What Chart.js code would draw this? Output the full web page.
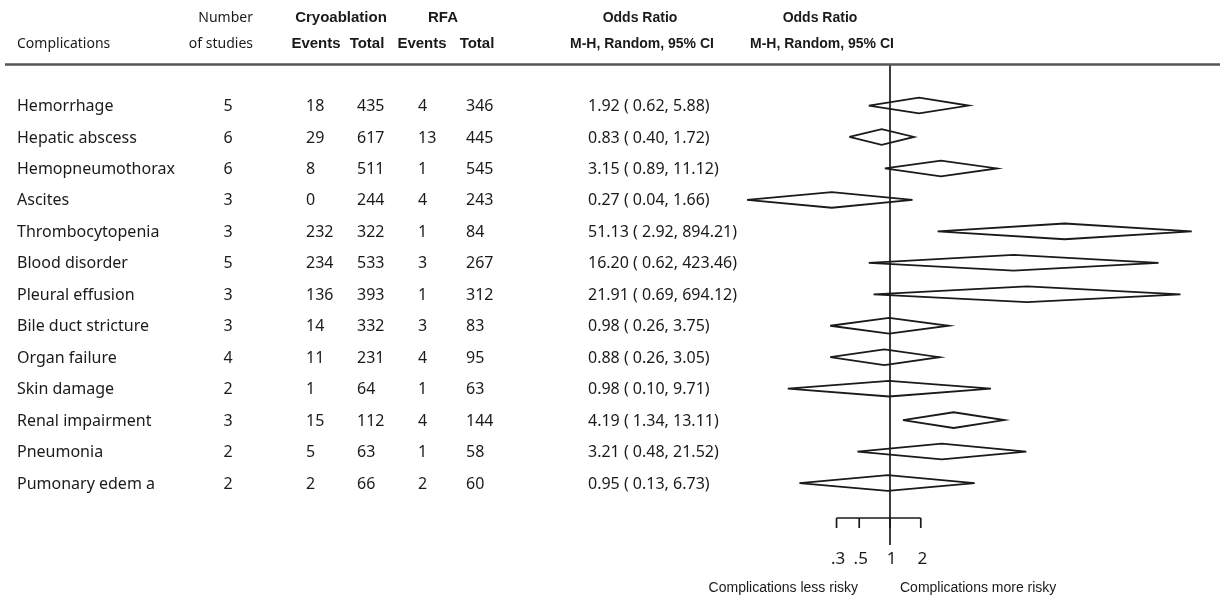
<!DOCTYPE html>
<html>
<head>
<meta charset="utf-8">
<title>Complications: cryoablation vs RFA</title>
<script src="https://cdn.jsdelivr.net/npm/chart.js@4/dist/chart.umd.min.js"></script>
<style>
  html, body { margin: 0; padding: 0; background: #ffffff; }
  canvas { display: block; }
</style>
</head>
<body>
<canvas id="forest" width="1220" height="601"></canvas>
<script>
// ---- data ----
const complications = [
  'Hemorrhage', 'Hepatic abscess', 'Hemopneumothorax', 'Ascites',
  'Thrombocytopenia', 'Blood disorder', 'Pleural effusion', 'Bile duct stricture',
  'Organ failure', 'Skin damage', 'Renal impairment', 'Pneumonia', 'Pumonary edem a'
];
const studies    = [5, 6, 6, 3, 3, 5, 3, 3, 4, 2, 3, 2, 2];
const cryoEvents = [18, 29, 8, 0, 232, 234, 136, 14, 11, 1, 15, 5, 2];
const cryoTotal  = [435, 617, 511, 244, 322, 533, 393, 332, 231, 64, 112, 63, 66];
const rfaEvents  = [4, 13, 1, 4, 1, 3, 1, 3, 4, 1, 4, 1, 2];
const rfaTotal   = [346, 445, 545, 243, 84, 267, 312, 83, 95, 63, 144, 58, 60];
const oddsRatio  = [1.92, 0.83, 3.15, 0.27, 51.13, 16.20, 21.91, 0.98, 0.88, 0.98, 4.19, 3.21, 0.95];
const ciLower    = [0.62, 0.40, 0.89, 0.04, 2.92, 0.62, 0.69, 0.26, 0.26, 0.10, 1.34, 0.48, 0.13];
const ciUpper    = [5.88, 1.72, 11.12, 1.66, 894.21, 423.46, 694.12, 3.75, 3.05, 9.71, 13.11, 21.52, 6.73];
const axisTicks      = [0.3, 0.5, 1, 2];
const axisTickLabels = ['.3', '.5', '1', '2'];

// ---- layout constants ----
const X_MIN = 0.03, X_MAX = 1510;   // log odds-ratio axis range
const Y_MIN = -1.32, Y_MAX = 13.97; // row index range (reversed)
const DIAMOND_HALF = 0.25;          // half height of a diamond, in rows

const INK = '#1a1a1a';
const ROW_FONT = '16px "Noto Sans"';
const HEAD_FONT = '14px "Noto Sans"';
const BOLD_FONT = 'bold 15px "Liberation Sans"';
const BOLD_FONT_SM = 'bold 14px "Liberation Sans"';

// one polygon per row: lower -> top -> upper -> bottom -> lower, separated by gaps
const diamondPoints = [];
oddsRatio.forEach((or, i) => {
  diamondPoints.push(
    { x: ciLower[i], y: i },
    { x: or, y: i - DIAMOND_HALF },
    { x: ciUpper[i], y: i },
    { x: or, y: i + DIAMOND_HALF },
    { x: ciLower[i], y: i },
    { x: or, y: null }
  );
});

const fmt = v => v.toFixed(2);

const tablePlugin = {
  id: 'forestTable',
  afterDraw(chart) {
    const { ctx, chartArea, scales: { x, y } } = chart;
    ctx.save();
    ctx.fillStyle = INK;
    ctx.textBaseline = 'middle';

    // header rule
    ctx.strokeStyle = '#555555';
    ctx.lineWidth = 2.5;
    ctx.beginPath();
    ctx.moveTo(5, 64.5);
    ctx.lineTo(1220, 64.5);
    ctx.stroke();

    // column headers
    ctx.font = HEAD_FONT;
    ctx.textAlign = 'left';
    ctx.fillText('Complications', 17, 44);
    ctx.textAlign = 'right';
    ctx.fillText('Number', 253, 18);
    ctx.fillText('of studies', 253, 44);

    ctx.textAlign = 'center';
    ctx.font = BOLD_FONT;
    ctx.fillText('Cryoablation', 341, 18);
    ctx.fillText('RFA', 443, 18);
    ctx.fillText('Events', 316, 44);
    ctx.fillText('Total', 367, 44);
    ctx.fillText('Events', 422, 44);
    ctx.fillText('Total', 477, 44);

    ctx.font = BOLD_FONT_SM;
    ctx.fillText('Odds Ratio', 640, 18);
    ctx.fillText('M-H, Random, 95% CI', 642, 44);
    ctx.fillText('Odds Ratio', 820, 18);
    ctx.fillText('M-H, Random, 95% CI', 822, 44);

    // table rows
    ctx.font = ROW_FONT;
    complications.forEach((name, i) => {
      const py = y.getPixelForValue(i) + 1;
      ctx.textAlign = 'left';
      ctx.fillText(name, 17, py);
      ctx.textAlign = 'center';
      ctx.fillText(String(studies[i]), 228, py);
      ctx.textAlign = 'left';
      ctx.fillText(String(cryoEvents[i]), 306, py);
      ctx.fillText(String(cryoTotal[i]), 357, py);
      ctx.fillText(String(rfaEvents[i]), 418, py);
      ctx.fillText(String(rfaTotal[i]), 466, py);
      ctx.fillText(fmt(oddsRatio[i]) + ' ( ' + fmt(ciLower[i]) + ', ' + fmt(ciUpper[i]) + ')', 588, py);
    });

    // odds-ratio axis bracket
    const axY = chartArea.bottom - 27;
    const tickEnd = axY + 10;
    const xs = axisTicks.map(v => x.getPixelForValue(v));
    ctx.strokeStyle = INK;
    ctx.lineWidth = 1.7;
    ctx.beginPath();
    ctx.moveTo(xs[0], axY);
    ctx.lineTo(xs[xs.length - 1], axY);
    xs.forEach(px => { ctx.moveTo(px, axY); ctx.lineTo(px, tickEnd); });
    ctx.stroke();

    ctx.font = '17px "Noto Sans"';
    ctx.textAlign = 'center';
    xs.forEach((px, k) => ctx.fillText(axisTickLabels[k], px + 1.5, chartArea.bottom + 14));

    // direction captions
    const one = x.getPixelForValue(1);
    ctx.font = '14px "Liberation Sans"';
    ctx.textAlign = 'right';
    ctx.fillText('Complications less risky', one - 32, chartArea.bottom + 43);
    ctx.textAlign = 'left';
    ctx.fillText('Complications more risky', one + 10, chartArea.bottom + 43);

    ctx.restore();
  }
};

new Chart(document.getElementById('forest'), {
  type: 'scatter',
  data: {
    datasets: [
      {
        label: 'Odds ratio (95% CI)',
        data: diamondPoints,
        showLine: true,
        spanGaps: false,
        borderColor: INK,
        borderWidth: 1.8,
        borderJoinStyle: 'miter',
        backgroundColor: 'rgba(0,0,0,0)',
        pointRadius: 0,
        tension: 0
      },
      {
        label: 'No effect',
        data: [{ x: 1, y: Y_MIN }, { x: 1, y: Y_MAX }],
        showLine: true,
        borderColor: INK,
        borderWidth: 1.7,
        pointRadius: 0
      }
    ]
  },
  options: {
    responsive: false,
    devicePixelRatio: 1,
    animation: false,
    events: [],
    layout: { padding: { left: 734.3, right: 5, top: 64, bottom: 56 } },
    plugins: { legend: { display: false }, tooltip: { enabled: false } },
    scales: {
      x: { type: 'logarithmic', min: X_MIN, max: X_MAX, display: false },
      y: { type: 'linear', reverse: true, min: Y_MIN, max: Y_MAX, display: false }
    }
  },
  plugins: [tablePlugin]
});
</script>
</body>
</html>
